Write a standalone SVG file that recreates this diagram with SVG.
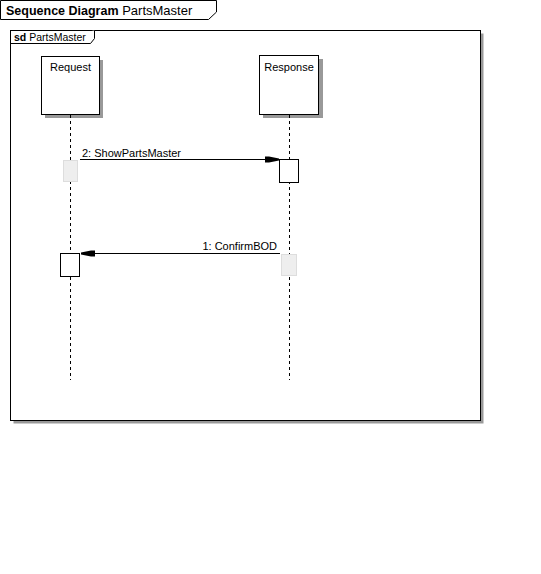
<svg xmlns="http://www.w3.org/2000/svg" width="541" height="574" viewBox="0 0 541 574">
<style>
  text { font-family: "Liberation Sans", Arial, sans-serif; fill: #000; }
  .lbl { font-size: 11px; }
  .box { fill: #fff; stroke: #000; stroke-width: 1; }
  .shadow { fill: #999; }
  .life { stroke: #000; stroke-width: 1; stroke-dasharray: 3 3; fill: none; }
  .msg { stroke: #000; stroke-width: 1; fill: none; }
  .ghost { fill: #eee; stroke: #ddd; stroke-width: 1; }
  .act { fill: #fff; stroke: #000; stroke-width: 1; }
</style>
<defs>
  <marker id="ah" viewBox="0 0 14 7" refX="14" refY="3.5" markerWidth="14" markerHeight="7" markerUnits="userSpaceOnUse" orient="auto">
    <path d="M0,0.5 L4,0.5 L14,2.5 L14,4.5 L4,6.5 L0,6.5 Z" fill="#000"/>
  </marker>
</defs>
<rect width="541" height="574" fill="#fff"/>

<g id="title">
  <path d="M0.5,0.5 L216.5,0.5 L216.5,12 L208.5,19.5 L0.5,19.5 Z" fill="#fff" stroke="#000"/>
  <text x="6" y="15"><tspan font-weight="bold" style="font-size:12.5px">Sequence Diagram</tspan><tspan style="font-size:13px"> PartsMaster</tspan></text>
</g>

<g id="frame">
  <rect x="13.5" y="33.5" width="470" height="390" class="shadow"/>
  <rect x="10.5" y="30.5" width="470" height="390" fill="#fff" stroke="#000" stroke-width="1"/>
  <path d="M10.5,43.5 L90.5,43.5 L94.5,38.5 L94.5,30.5" fill="#fff" stroke="#000"/>
  <text x="14" y="41" style="font-size:10.5px"><tspan font-weight="bold">sd</tspan> PartsMaster</text>
</g>

<g id="Request">
  <rect x="45" y="60" width="58" height="58" class="shadow"/>
  <rect x="41.5" y="56.5" width="58" height="58" class="box"/>
  <text x="70.5" y="71" text-anchor="middle" class="lbl">Request</text>
  <line x1="70.5" y1="115" x2="70.5" y2="380" class="life"/>
</g>

<g id="Response">
  <rect x="263" y="59" width="60" height="59" class="shadow"/>
  <rect x="259.5" y="55.5" width="59" height="59" class="box"/>
  <text x="289" y="71" text-anchor="middle" class="lbl">Response</text>
  <line x1="289.5" y1="115" x2="289.5" y2="380" class="life"/>
</g>

<g id="activations">
  <rect x="63.5" y="160.5" width="14" height="21" class="ghost"/>
  <rect x="279.5" y="159.5" width="19" height="23" class="act"/>
  <rect x="281.5" y="254.5" width="15" height="21" class="ghost"/>
  <rect x="60.5" y="253.5" width="19" height="23" class="act"/>
</g>

<g id="connectors">
  <line x1="80" y1="159.5" x2="279" y2="159.5" class="msg" marker-end="url(#ah)"/>
  <text x="82" y="157" class="lbl">2: ShowPartsMaster</text>
  <line x1="280" y1="253.5" x2="81" y2="253.5" class="msg" marker-end="url(#ah)"/>
  <text x="277" y="250" text-anchor="end" class="lbl">1: ConfirmBOD</text>
</g>
</svg>
